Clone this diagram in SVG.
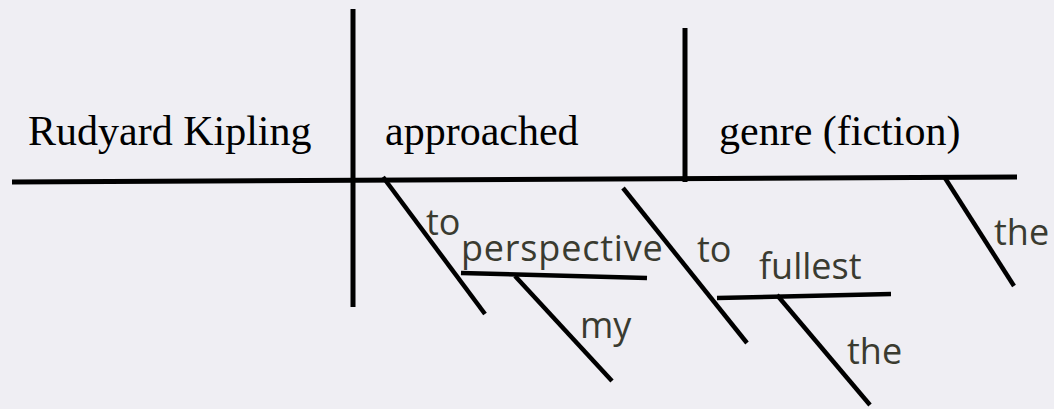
<svg xmlns="http://www.w3.org/2000/svg" width="1054" height="409" viewBox="0 0 1054 409">
<style>
.ln{stroke:#000;stroke-width:5;fill:none;stroke-linecap:butt}
.ln2{stroke:#000;stroke-width:4.5;fill:none}
.serif{font-family:"Liberation Serif","Times New Roman",serif;font-size:42px;fill:#000}
.sans{font-family:"Open Sans","Noto Sans",sans-serif;font-size:36px;fill:#3a3b30}
</style>
<rect width="1054" height="409" fill="#efeef3"/>
<g id="connectors">
<line class="ln" x1="12" y1="182" x2="1017" y2="177"/>
<line class="ln" x1="353" y1="9" x2="353" y2="307"/>
<line class="ln" x1="685" y1="28" x2="685" y2="182"/>
<line class="ln2" x1="383" y1="177" x2="485" y2="314"/>
<line class="ln2" x1="461" y1="273" x2="647" y2="278"/>
<line class="ln2" x1="515" y1="276" x2="612" y2="381"/>
<line class="ln2" x1="623" y1="188" x2="747" y2="343"/>
<line class="ln2" x1="717" y1="298" x2="891" y2="294"/>
<line class="ln2" x1="777" y1="295" x2="870" y2="405"/>
<line class="ln2" x1="945" y1="178" x2="1014" y2="286"/>
</g>
<g id="subject"><text class="serif" x="28" y="145">Rudyard Kipling</text></g>
<g id="verb"><text class="serif" x="385" y="145">approached</text></g>
<g id="object"><text class="serif" x="719" y="145">genre (fiction)</text></g>
<g id="prep1"><text class="sans" x="426" y="235">to</text></g>
<g id="perspective"><text class="sans" x="461" y="261" letter-spacing="0.8">perspective</text></g>
<g id="my"><text class="sans" x="580" y="338">my</text></g>
<g id="prep2"><text class="sans" x="697" y="262">to</text></g>
<g id="fullest"><text class="sans" x="759" y="279">fullest</text></g>
<g id="the1"><text class="sans" x="847" y="364">the</text></g>
<g id="the2"><text class="sans" x="994" y="245">the</text></g>
</svg>
